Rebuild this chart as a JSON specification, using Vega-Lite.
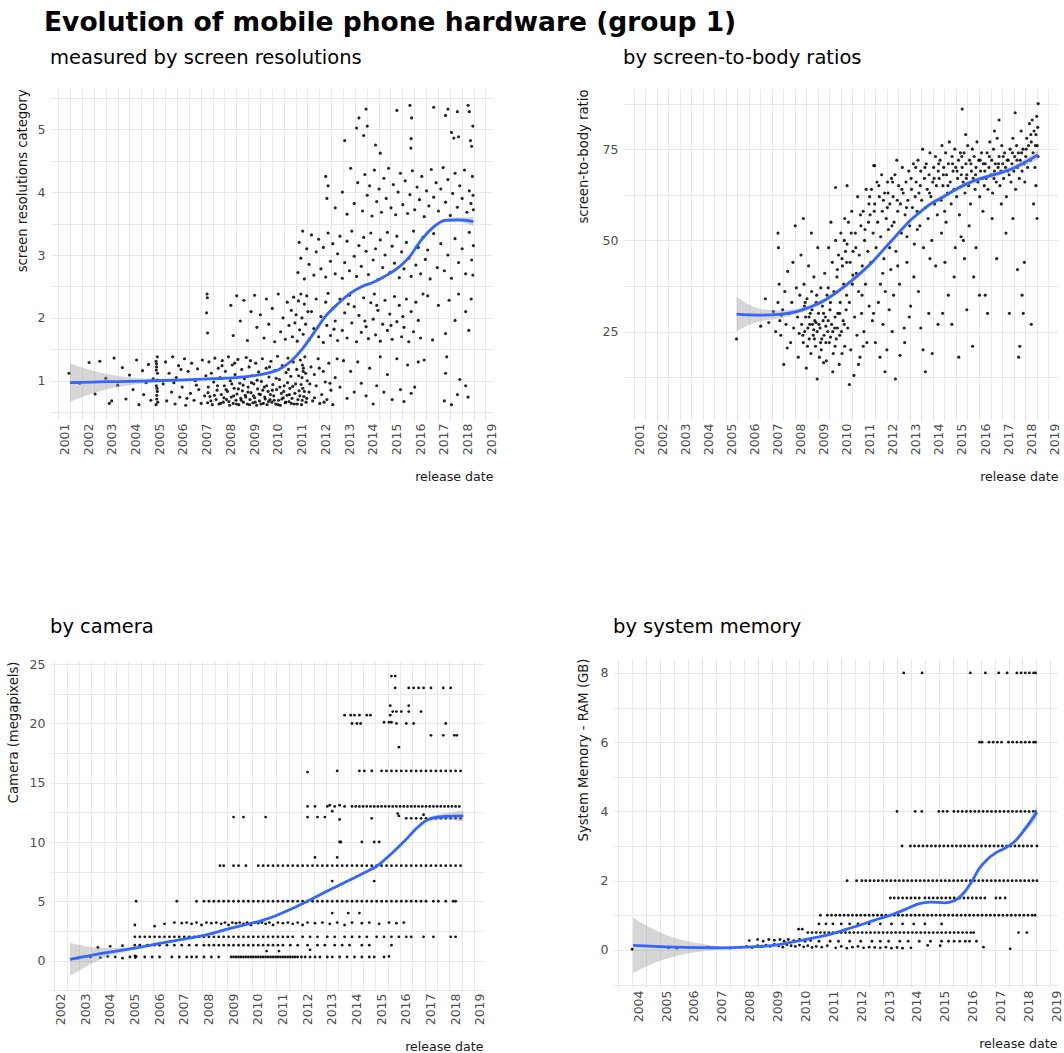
{
"$schema":"https://vega.github.io/schema/vega-lite/v6.json",
"padding":{"left":5,"top":10,"right":0,"bottom":0},
"title":{"text":"Evolution of mobile phone hardware (group 1)","fontSize":26.5,"fontWeight":"bold","anchor":"start","frame":"bounds","dx":38,"offset":-10,"baseline":"alphabetic","color":"#000000"},
"columns":2,
"align":"none",
"spacing":{"row":132,"column":77},
"concat":[
{"title":"measured by screen resolutions","width":443,"height":332,
"resolve":{"axis":{"x":"independent","y":"independent"}},
"layer":[
{"data":{"name":"p1"},"mark":{"type":"point","filled":true,"size":10,"opacity":0.85,"color":"#000000","clip":true},
"encoding":{"x":{"field":"d","type":"quantitative","title":"release date","scale":{"domain":[2000.65,2019.32],"nice":false,"zero":false},"axis":{"values":[2001,2002,2003,2004,2005,2006,2007,2008,2009,2010,2011,2012,2013,2014,2015,2016,2017,2018,2019],"format":"d"}},
"y":{"field":"v","type":"quantitative","title":"screen resolutions category","scale":{"domain":[0.36,5.64],"nice":false,"zero":false},"axis":{"values":[1,2,3,4,5],"format":"d","minExtent":13,"maxExtent":13,"titlePadding":8}}}},
{"data":{"name":"s1"},"mark":{"type":"area","color":"#999999","opacity":0.4,"interpolate":"monotone","clip":true},
"encoding":{"x":{"field":"d","type":"quantitative","title":null,"scale":{"domain":[2000.65,2019.32],"nice":false,"zero":false},"axis":{"orient":"top","values":[2001.5,2002.5,2003.5,2004.5,2005.5,2006.5,2007.5,2008.5,2009.5,2010.5,2011.5,2012.5,2013.5,2014.5,2015.5,2016.5,2017.5,2018.5],"labels":false,"ticks":false,"domain":false,"grid":true,"minExtent":0,"maxExtent":0}},
"y":{"field":"lo","type":"quantitative","title":null,"scale":{"domain":[0.36,5.64],"nice":false,"zero":false},"axis":{"orient":"right","values":[0.5,1.5,2.5,3.5,4.5,5.5],"labels":false,"ticks":false,"domain":false,"grid":true,"minExtent":0,"maxExtent":0}},"y2":{"field":"hi"}}},
{"data":{"name":"s1"},"mark":{"type":"line","color":"#3366FF","strokeWidth":2.8,"interpolate":"monotone","clip":true},
"encoding":{"x":{"field":"d","type":"quantitative","scale":{"domain":[2000.65,2019.32],"nice":false,"zero":false},"axis":null},"y":{"field":"m","type":"quantitative","scale":{"domain":[0.36,5.64],"nice":false,"zero":false},"axis":null}}}
]},
{"title":"by screen-to-body ratios","width":435,"height":332,
"resolve":{"axis":{"x":"independent","y":"independent"}},
"layer":[
{"data":{"name":"p2"},"mark":{"type":"point","filled":true,"size":10,"opacity":0.85,"color":"#000000","clip":true},
"encoding":{"x":{"field":"d","type":"quantitative","title":"release date","scale":{"domain":[2000.54,2019.43],"nice":false,"zero":false},"axis":{"values":[2001,2002,2003,2004,2005,2006,2007,2008,2009,2010,2011,2012,2013,2014,2015,2016,2017,2018,2019],"format":"d"}},
"y":{"field":"v","type":"quantitative","title":"screen-to-body ratio","scale":{"domain":[0.5,91.5],"nice":false,"zero":false},"axis":{"values":[25,50,75],"format":"d","minExtent":21,"maxExtent":21,"titlePadding":12}}}},
{"data":{"name":"s2"},"mark":{"type":"area","color":"#999999","opacity":0.4,"interpolate":"monotone","clip":true},
"encoding":{"x":{"field":"d","type":"quantitative","title":null,"scale":{"domain":[2000.54,2019.43],"nice":false,"zero":false},"axis":{"orient":"top","values":[2001.5,2002.5,2003.5,2004.5,2005.5,2006.5,2007.5,2008.5,2009.5,2010.5,2011.5,2012.5,2013.5,2014.5,2015.5,2016.5,2017.5,2018.5],"labels":false,"ticks":false,"domain":false,"grid":true,"minExtent":0,"maxExtent":0}},
"y":{"field":"lo","type":"quantitative","title":null,"scale":{"domain":[0.5,91.5],"nice":false,"zero":false},"axis":{"orient":"right","values":[12.5,37.5,62.5,87.5],"labels":false,"ticks":false,"domain":false,"grid":true,"minExtent":0,"maxExtent":0}},"y2":{"field":"hi"}}},
{"data":{"name":"s2"},"mark":{"type":"line","color":"#3366FF","strokeWidth":2.8,"interpolate":"monotone","clip":true},
"encoding":{"x":{"field":"d","type":"quantitative","scale":{"domain":[2000.54,2019.43],"nice":false,"zero":false},"axis":null},"y":{"field":"m","type":"quantitative","scale":{"domain":[0.5,91.5],"nice":false,"zero":false},"axis":null}}}
]},
{"title":"by camera","width":433,"height":330,
"resolve":{"axis":{"x":"independent","y":"independent"}},
"layer":[
{"data":{"name":"p3"},"mark":{"type":"point","filled":true,"size":8,"opacity":0.9,"color":"#000000","clip":true},
"encoding":{"x":{"field":"d","type":"quantitative","title":"release date","scale":{"domain":[2001.82,2019.37],"nice":false,"zero":false},"axis":{"values":[2002,2003,2004,2005,2006,2007,2008,2009,2010,2011,2012,2013,2014,2015,2016,2017,2018,2019],"format":"d"}},
"y":{"field":"v","type":"quantitative","title":"Camera (megapixels)","scale":{"domain":[-2.57,25.27],"nice":false,"zero":false},"axis":{"values":[0,5,10,15,20,25],"format":"d","minExtent":21,"maxExtent":21,"titlePadding":9}}}},
{"data":{"name":"s3"},"mark":{"type":"area","color":"#999999","opacity":0.4,"interpolate":"monotone","clip":true},
"encoding":{"x":{"field":"d","type":"quantitative","title":null,"scale":{"domain":[2001.82,2019.37],"nice":false,"zero":false},"axis":{"orient":"top","values":[2002.5,2003.5,2004.5,2005.5,2006.5,2007.5,2008.5,2009.5,2010.5,2011.5,2012.5,2013.5,2014.5,2015.5,2016.5,2017.5,2018.5],"labels":false,"ticks":false,"domain":false,"grid":true,"minExtent":0,"maxExtent":0}},
"y":{"field":"lo","type":"quantitative","title":null,"scale":{"domain":[-2.57,25.27],"nice":false,"zero":false},"axis":{"orient":"right","values":[-2.5,2.5,7.5,12.5,17.5,22.5],"labels":false,"ticks":false,"domain":false,"grid":true,"minExtent":0,"maxExtent":0}},"y2":{"field":"hi"}}},
{"data":{"name":"s3"},"mark":{"type":"line","color":"#3366FF","strokeWidth":2.8,"interpolate":"monotone","clip":true},
"encoding":{"x":{"field":"d","type":"quantitative","scale":{"domain":[2001.82,2019.37],"nice":false,"zero":false},"axis":null},"y":{"field":"m","type":"quantitative","scale":{"domain":[-2.57,25.27],"nice":false,"zero":false},"axis":null}}}
]},
{"title":"by system memory","width":444,"height":330,
"resolve":{"axis":{"x":"independent","y":"independent"}},
"layer":[
{"data":{"name":"p4"},"mark":{"type":"point","filled":true,"size":8,"opacity":0.9,"color":"#000000","clip":true},
"encoding":{"x":{"field":"d","type":"quantitative","title":"release date","scale":{"domain":[2003.31,2019.24],"nice":false,"zero":false},"axis":{"values":[2004,2005,2006,2007,2008,2009,2010,2011,2012,2013,2014,2015,2016,2017,2018,2019],"format":"d"}},
"y":{"field":"v","type":"quantitative","title":"System Memory - RAM (GB)","scale":{"domain":[-1.1,8.43],"nice":false,"zero":false},"axis":{"values":[0,2,4,6,8],"format":"d","minExtent":13,"maxExtent":13,"titlePadding":10}}}},
{"data":{"name":"s4"},"mark":{"type":"area","color":"#999999","opacity":0.4,"interpolate":"monotone","clip":true},
"encoding":{"x":{"field":"d","type":"quantitative","title":null,"scale":{"domain":[2003.31,2019.24],"nice":false,"zero":false},"axis":{"orient":"top","values":[2003.5,2004.5,2005.5,2006.5,2007.5,2008.5,2009.5,2010.5,2011.5,2012.5,2013.5,2014.5,2015.5,2016.5,2017.5,2018.5],"labels":false,"ticks":false,"domain":false,"grid":true,"minExtent":0,"maxExtent":0}},
"y":{"field":"lo","type":"quantitative","title":null,"scale":{"domain":[-1.1,8.43],"nice":false,"zero":false},"axis":{"orient":"right","values":[-1,1,3,5,7],"labels":false,"ticks":false,"domain":false,"grid":true,"minExtent":0,"maxExtent":0}},"y2":{"field":"hi"}}},
{"data":{"name":"s4"},"mark":{"type":"line","color":"#3366FF","strokeWidth":2.8,"interpolate":"monotone","clip":true},
"encoding":{"x":{"field":"d","type":"quantitative","scale":{"domain":[2003.31,2019.24],"nice":false,"zero":false},"axis":null},"y":{"field":"m","type":"quantitative","scale":{"domain":[-1.1,8.43],"nice":false,"zero":false},"axis":null}}}
]}
],
"datasets":{
"s1":[{"d":2001.49,"m":0.97,"lo":0.66,"hi":1.28},{"d":2002,"m":0.975,"lo":0.74,"hi":1.21},{"d":2003,"m":0.985,"lo":0.86,"hi":1.11},{"d":2004,"m":0.99,"lo":0.93,"hi":1.05},{"d":2005,"m":1.0,"lo":0.97,"hi":1.03},{"d":2006,"m":1.01,"lo":0.99,"hi":1.03},{"d":2007,"m":1.025,"lo":1.01,"hi":1.04},{"d":2008,"m":1.04,"lo":1.025,"hi":1.055},{"d":2008.6,"m":1.055,"lo":1.04,"hi":1.07},{"d":2009.4,"m":1.09,"lo":1.075,"hi":1.105},{"d":2009.9,"m":1.13,"lo":1.115,"hi":1.145},{"d":2010.3,"m":1.18,"lo":1.165,"hi":1.195},{"d":2010.8,"m":1.31,"lo":1.29,"hi":1.33},{"d":2011.25,"m":1.49,"lo":1.47,"hi":1.51},{"d":2011.75,"m":1.75,"lo":1.73,"hi":1.77},{"d":2012.25,"m":2.02,"lo":2.0,"hi":2.04},{"d":2012.8,"m":2.23,"lo":2.21,"hi":2.25},{"d":2013.3,"m":2.39,"lo":2.37,"hi":2.41},{"d":2013.8,"m":2.5,"lo":2.48,"hi":2.52},{"d":2014.3,"m":2.57,"lo":2.55,"hi":2.59},{"d":2014.8,"m":2.67,"lo":2.65,"hi":2.69},{"d":2015.3,"m":2.79,"lo":2.77,"hi":2.81},{"d":2015.8,"m":2.97,"lo":2.95,"hi":2.99},{"d":2016.3,"m":3.24,"lo":3.21,"hi":3.27},{"d":2016.8,"m":3.44,"lo":3.41,"hi":3.47},{"d":2017.3,"m":3.55,"lo":3.52,"hi":3.58},{"d":2017.85,"m":3.56,"lo":3.52,"hi":3.6},{"d":2018.2,"m":3.55,"lo":3.5,"hi":3.6},{"d":2018.49,"m":3.53,"lo":3.45,"hi":3.61}],
"s2":[{"d":2005.47,"m":29.8,"lo":25,"hi":34.6},{"d":2006,"m":29.6,"lo":26.8,"hi":32.4},{"d":2006.6,"m":29.5,"lo":27.9,"hi":31.1},{"d":2007.3,"m":29.7,"lo":28.6,"hi":30.8},{"d":2008.07,"m":30.5,"lo":29.8,"hi":31.2},{"d":2008.7,"m":31.8,"lo":31.2,"hi":32.4},{"d":2009.3,"m":33.6,"lo":33.0,"hi":34.2},{"d":2009.8,"m":35.7,"lo":35.1,"hi":36.3},{"d":2010.34,"m":38.3,"lo":37.7,"hi":38.9},{"d":2010.9,"m":41.3,"lo":40.7,"hi":41.9},{"d":2011.4,"m":44.3,"lo":43.7,"hi":44.9},{"d":2011.9,"m":47.8,"lo":47.2,"hi":48.4},{"d":2012.42,"m":51.4,"lo":50.8,"hi":52.0},{"d":2012.9,"m":54.8,"lo":54.2,"hi":55.4},{"d":2013.43,"m":57.7,"lo":57.1,"hi":58.3},{"d":2013.9,"m":60.0,"lo":59.4,"hi":60.6},{"d":2014.44,"m":61.9,"lo":61.3,"hi":62.5},{"d":2014.95,"m":63.8,"lo":63.2,"hi":64.4},{"d":2015.46,"m":65.5,"lo":64.9,"hi":66.1},{"d":2015.95,"m":66.7,"lo":66.1,"hi":67.3},{"d":2016.47,"m":67.7,"lo":67.1,"hi":68.3},{"d":2016.95,"m":68.6,"lo":68.0,"hi":69.2},{"d":2017.48,"m":69.8,"lo":69.1,"hi":70.5},{"d":2018,"m":71.4,"lo":70.5,"hi":72.3},{"d":2018.57,"m":73.5,"lo":72.2,"hi":74.8}],
"s3":[{"d":2002.63,"m":0.1,"lo":-1.3,"hi":1.5},{"d":2003.2,"m":0.32,"lo":-0.6,"hi":1.24},{"d":2003.8,"m":0.56,"lo":0.05,"hi":1.07},{"d":2004.5,"m":0.8,"lo":0.55,"hi":1.05},{"d":2005.26,"m":1.04,"lo":0.94,"hi":1.14},{"d":2006,"m":1.35,"lo":1.28,"hi":1.42},{"d":2007,"m":1.72,"lo":1.66,"hi":1.78},{"d":2007.7,"m":1.97,"lo":1.92,"hi":2.02},{"d":2008.4,"m":2.3,"lo":2.25,"hi":2.35},{"d":2009.05,"m":2.67,"lo":2.62,"hi":2.72},{"d":2009.7,"m":3.0,"lo":2.95,"hi":3.05},{"d":2010.4,"m":3.37,"lo":3.32,"hi":3.42},{"d":2011,"m":3.8,"lo":3.75,"hi":3.85},{"d":2011.6,"m":4.35,"lo":4.29,"hi":4.41},{"d":2012.29,"m":5.05,"lo":4.98,"hi":5.12},{"d":2013,"m":5.8,"lo":5.73,"hi":5.87},{"d":2013.78,"m":6.6,"lo":6.53,"hi":6.67},{"d":2014.5,"m":7.35,"lo":7.27,"hi":7.43},{"d":2015.13,"m":8.06,"lo":7.97,"hi":8.15},{"d":2015.7,"m":9.1,"lo":9.0,"hi":9.2},{"d":2016.2,"m":10.1,"lo":9.98,"hi":10.22},{"d":2016.7,"m":11.2,"lo":11.06,"hi":11.34},{"d":2017.15,"m":11.9,"lo":11.72,"hi":12.08},{"d":2017.83,"m":12.15,"lo":11.88,"hi":12.42},{"d":2018.57,"m":12.2,"lo":11.75,"hi":12.65}],
"s4":[{"d":2004.03,"m":0.13,"lo":-0.67,"hi":0.93},{"d":2004.6,"m":0.11,"lo":-0.44,"hi":0.66},{"d":2005.2,"m":0.09,"lo":-0.26,"hi":0.44},{"d":2005.9,"m":0.075,"lo":-0.12,"hi":0.27},{"d":2006.6,"m":0.065,"lo":-0.03,"hi":0.16},{"d":2007.3,"m":0.06,"lo":0.02,"hi":0.1},{"d":2008.1,"m":0.08,"lo":0.06,"hi":0.1},{"d":2009.07,"m":0.13,"lo":0.115,"hi":0.145},{"d":2010.03,"m":0.27,"lo":0.255,"hi":0.285},{"d":2010.6,"m":0.36,"lo":0.345,"hi":0.375},{"d":2011.22,"m":0.48,"lo":0.465,"hi":0.495},{"d":2011.7,"m":0.6,"lo":0.585,"hi":0.615},{"d":2012.18,"m":0.72,"lo":0.705,"hi":0.735},{"d":2012.7,"m":0.86,"lo":0.845,"hi":0.875},{"d":2013.26,"m":1.0,"lo":0.985,"hi":1.015},{"d":2013.8,"m":1.17,"lo":1.15,"hi":1.19},{"d":2014.27,"m":1.33,"lo":1.31,"hi":1.35},{"d":2014.7,"m":1.38,"lo":1.36,"hi":1.4},{"d":2015.2,"m":1.36,"lo":1.34,"hi":1.38},{"d":2015.55,"m":1.42,"lo":1.4,"hi":1.44},{"d":2015.9,"m":1.65,"lo":1.63,"hi":1.67},{"d":2016.2,"m":2.0,"lo":1.97,"hi":2.03},{"d":2016.45,"m":2.35,"lo":2.32,"hi":2.38},{"d":2016.72,"m":2.6,"lo":2.57,"hi":2.63},{"d":2017.0,"m":2.78,"lo":2.75,"hi":2.81},{"d":2017.35,"m":2.93,"lo":2.9,"hi":2.96},{"d":2017.68,"m":3.1,"lo":3.06,"hi":3.14},{"d":2018.1,"m":3.5,"lo":3.42,"hi":3.58},{"d":2018.52,"m":3.98,"lo":3.78,"hi":4.18}],
"p1":[{"d":2001.45,"v":1.12},{"d":2001.9,"v":0.96},{"d":2002.3,"v":1.29},{"d":2002.55,"v":0.79},{"d":2002.75,"v":1.31},{"d":2003.0,"v":1.04},{"d":2003.15,"v":0.64},{"d":2003.35,"v":1.36},{"d":2003.5,"v":0.93},{"d":2003.7,"v":1.21},{"d":2003.85,"v":0.71},{"d":2004.0,"v":1.09},{"d":2004.15,"v":0.86},{"d":2004.3,"v":1.33},{"d":2004.4,"v":0.62},{"d":2004.55,"v":1.16},{"d":2004.7,"v":0.97},{"d":2004.8,"v":1.26},{"d":2004.9,"v":0.69},{"d":2005.0,"v":1.03},{"d":2003.25,"v":0.68},{"d":2004.6,"v":0.78},
{"d":2005.12,"v":0.62},{"d":2005.15,"v":0.71},{"d":2005.17,"v":0.83},{"d":2005.13,"v":0.92},{"d":2005.16,"v":1.01},{"d":2005.18,"v":1.12},{"d":2005.14,"v":1.22},{"d":2005.12,"v":1.31},{"d":2005.17,"v":1.38},{"d":2005.19,"v":0.66},{"d":2005.15,"v":0.77},{"d":2005.13,"v":1.17},{"d":2005.16,"v":0.88},{"d":2005.14,"v":1.27},
{"d":2005.42,"v":0.95},{"d":2005.52,"v":1.3},{"d":2005.57,"v":0.68},{"d":2005.67,"v":1.12},{"d":2005.77,"v":0.82},{"d":2005.82,"v":1.38},{"d":2005.92,"v":0.63},{"d":2005.97,"v":1.05},{"d":2006.07,"v":1.24},{"d":2006.12,"v":0.74},{"d":2006.22,"v":0.9},{"d":2006.32,"v":1.35},{"d":2006.37,"v":0.61},{"d":2006.47,"v":1.15},{"d":2006.57,"v":0.8},{"d":2006.62,"v":1.28},{"d":2006.72,"v":0.69},{"d":2006.77,"v":1.0},{"d":2006.87,"v":1.19},{"d":2006.92,"v":0.86},{"d":2007.02,"v":0.64},{"d":2007.07,"v":1.33},{"d":2007.17,"v":0.76},{"d":2007.22,"v":1.08},{"d":2005.87,"v":0.97},{"d":2006.42,"v":0.72},{"d":2006.82,"v":0.93},{"d":2006.17,"v":1.18},
{"d":2007.29,"v":0.65},{"d":2007.32,"v":0.9},{"d":2007.35,"v":1.3},{"d":2007.39,"v":0.75},{"d":2007.45,"v":1.12},{"d":2007.49,"v":0.62},{"d":2007.55,"v":0.98},{"d":2007.6,"v":1.36},{"d":2007.65,"v":0.7},{"d":2007.69,"v":0.85},{"d":2007.74,"v":1.2},{"d":2007.77,"v":0.63},
{"d":2007.82,"v":1.05},{"d":2007.87,"v":0.78},{"d":2007.91,"v":1.32},{"d":2007.95,"v":0.66},{"d":2008.0,"v":0.92},{"d":2008.04,"v":1.15},{"d":2008.09,"v":0.7},{"d":2008.13,"v":0.83},{"d":2008.17,"v":1.38},{"d":2008.22,"v":0.61},{"d":2008.25,"v":1.0},
{"d":2008.29,"v":0.74},{"d":2008.33,"v":1.25},{"d":2008.37,"v":0.64},{"d":2008.41,"v":0.88},{"d":2008.45,"v":1.1},{"d":2008.49,"v":0.69},{"d":2008.53,"v":0.79},{"d":2008.57,"v":1.34},{"d":2008.61,"v":0.62},{"d":2008.65,"v":0.96},{"d":2008.69,"v":0.72},{"d":2008.73,"v":1.18},{"d":2008.76,"v":0.84},
{"d":2008.8,"v":0.66},{"d":2008.84,"v":1.03},{"d":2008.88,"v":0.77},{"d":2008.92,"v":1.37},{"d":2008.96,"v":0.63},{"d":2009.0,"v":0.9},{"d":2009.04,"v":1.22},{"d":2009.08,"v":0.7},{"d":2009.12,"v":0.81},{"d":2009.16,"v":1.08},{"d":2009.2,"v":0.65},{"d":2009.24,"v":0.95},
{"d":2009.28,"v":0.73},{"d":2009.32,"v":1.28},{"d":2009.36,"v":0.61},{"d":2009.4,"v":0.87},{"d":2009.44,"v":1.14},{"d":2009.48,"v":0.68},{"d":2009.52,"v":0.78},{"d":2009.56,"v":0.99},{"d":2009.6,"v":1.35},{"d":2009.64,"v":0.64},{"d":2009.68,"v":0.9},{"d":2009.72,"v":0.71},{"d":2009.76,"v":1.2},
{"d":2009.8,"v":0.62},{"d":2009.84,"v":0.83},{"d":2009.88,"v":1.06},{"d":2009.92,"v":0.7},{"d":2009.96,"v":1.31},{"d":2010.0,"v":0.66},{"d":2010.04,"v":0.94},{"d":2010.08,"v":0.76},{"d":2010.12,"v":1.16},{"d":2010.16,"v":0.63},{"d":2010.2,"v":0.86},{"d":2010.24,"v":1.39},
{"d":2010.28,"v":0.69},{"d":2010.32,"v":1.02},{"d":2010.36,"v":0.61},{"d":2010.4,"v":0.8},{"d":2010.44,"v":1.24},{"d":2010.48,"v":0.73},{"d":2010.52,"v":0.92},{"d":2010.56,"v":0.65},{"d":2010.6,"v":1.13},{"d":2010.64,"v":0.77},{"d":2010.68,"v":1.36},{"d":2010.72,"v":0.67},{"d":2010.76,"v":0.88},
{"d":2010.8,"v":1.07},{"d":2010.85,"v":0.72},{"d":2010.9,"v":1.3},{"d":2010.95,"v":0.63},{"d":2011.0,"v":0.95},{"d":2011.05,"v":1.18},{"d":2011.1,"v":0.7},{"d":2011.15,"v":0.84},{"d":2011.2,"v":1.33},{"d":2011.25,"v":0.62},{"d":2011.27,"v":1.05},{"d":2011.29,"v":1.25},{"d":2011.3,"v":0.88},{"d":2011.32,"v":1.15},{"d":2011.35,"v":0.75},{"d":2011.39,"v":1.38},{"d":2011.44,"v":0.66},{"d":2011.49,"v":1.0},
{"d":2007.31,"v":0.81},{"d":2007.43,"v":0.68},{"d":2007.58,"v":0.77},{"d":2007.71,"v":0.92},{"d":2007.84,"v":0.64},{"d":2007.98,"v":0.73},{"d":2008.07,"v":0.86},{"d":2008.19,"v":0.67},{"d":2008.31,"v":0.95},{"d":2008.39,"v":0.76},{"d":2008.51,"v":0.63},{"d":2008.59,"v":0.87},{"d":2008.71,"v":0.69},{"d":2008.79,"v":0.93},{"d":2008.9,"v":0.74},{"d":2008.99,"v":0.82},{"d":2009.06,"v":0.62},{"d":2009.14,"v":0.97},{"d":2009.22,"v":0.76},{"d":2009.3,"v":0.66},{"d":2009.38,"v":1.01},{"d":2009.46,"v":0.79},{"d":2009.54,"v":0.63},{"d":2009.62,"v":0.85},{"d":2009.7,"v":0.74},{"d":2009.78,"v":0.92},{"d":2009.86,"v":0.67},{"d":2009.94,"v":0.78},{"d":2010.02,"v":0.85},{"d":2010.1,"v":0.69},{"d":2010.18,"v":1.04},{"d":2010.26,"v":0.62},{"d":2010.34,"v":0.9},{"d":2010.42,"v":0.71},{"d":2010.5,"v":0.83},{"d":2010.58,"v":0.66},{"d":2010.66,"v":0.97},{"d":2010.74,"v":0.78},{"d":2010.82,"v":0.64},{"d":2010.88,"v":0.91},{"d":2010.97,"v":0.8},{"d":2011.07,"v":0.63},{"d":2011.13,"v":1.08},{"d":2011.18,"v":0.76},{"d":2011.23,"v":0.94},{"d":2011.28,"v":0.69},{"d":2011.33,"v":1.2},{"d":2011.37,"v":0.83},{"d":2011.42,"v":1.12},{"d":2011.47,"v":0.72},{"d":2008.43,"v":1.28},{"d":2009.1,"v":1.32},{"d":2009.9,"v":1.22},{"d":2010.7,"v":1.18},{"d":2007.9,"v":1.24},{"d":2011.6,"v":0.95},{"d":2011.8,"v":0.73},{"d":2012.0,"v":1.2},{"d":2012.2,"v":0.66},{"d":2012.45,"v":0.96},
{"d":2011.57,"v":0.82},{"d":2011.65,"v":1.22},{"d":2011.72,"v":0.68},{"d":2011.79,"v":1.1},{"d":2011.87,"v":0.92},{"d":2011.95,"v":1.35},{"d":2012.02,"v":0.64},{"d":2012.1,"v":0.78},{"d":2012.17,"v":1.15},{"d":2012.25,"v":0.98},{"d":2012.32,"v":0.7},{"d":2012.4,"v":1.28},{"d":2012.49,"v":0.85},{"d":2012.57,"v":0.62},{"d":2012.67,"v":1.05},{"d":2012.75,"v":1.35},
{"d":2012.87,"v":0.9},{"d":2013.02,"v":1.32},{"d":2013.17,"v":0.72},{"d":2013.32,"v":1.15},{"d":2013.47,"v":0.82},{"d":2013.62,"v":1.3},{"d":2013.77,"v":0.96},{"d":2013.97,"v":0.76},{"d":2014.12,"v":1.2},{"d":2014.27,"v":0.63},{"d":2014.42,"v":0.92},{"d":2014.57,"v":1.38},{"d":2014.72,"v":0.82},{"d":2014.87,"v":1.1},{"d":2015.07,"v":0.7},{"d":2015.27,"v":1.35},{"d":2015.42,"v":0.86},{"d":2015.57,"v":0.67},{"d":2015.72,"v":1.25},{"d":2015.87,"v":0.8},{"d":2016.02,"v":0.9},{"d":2016.17,"v":1.3},{"d":2016.42,"v":1.33},
{"d":2017.27,"v":0.68},{"d":2017.32,"v":1.12},{"d":2017.37,"v":1.38},{"d":2017.57,"v":0.62},{"d":2017.82,"v":0.78},{"d":2017.92,"v":1.02},{"d":2018.17,"v":0.92},{"d":2018.27,"v":0.74},
{"d":2007.27,"v":2.38},{"d":2007.29,"v":1.76},{"d":2007.25,"v":2.08},{"d":2007.28,"v":2.32},
{"d":2008.27,"v":2.2},{"d":2008.37,"v":1.72},{"d":2008.52,"v":2.35},{"d":2008.67,"v":1.95},{"d":2008.82,"v":2.28},{"d":2008.97,"v":1.64},{"d":2009.12,"v":2.1},{"d":2009.27,"v":2.36},{"d":2009.37,"v":1.85},{"d":2009.52,"v":2.05},{"d":2009.67,"v":1.68},{"d":2009.77,"v":2.3},{"d":2009.87,"v":1.9},{"d":2010.02,"v":2.15},{"d":2010.12,"v":1.62},{"d":2010.27,"v":2.38},{"d":2010.37,"v":1.78},{"d":2010.47,"v":2.0},{"d":2010.57,"v":1.66},{"d":2010.65,"v":2.25},{"d":2010.72,"v":1.88},
{"d":2010.82,"v":2.12},{"d":2010.87,"v":1.7},{"d":2010.92,"v":2.33},{"d":2010.97,"v":1.92},{"d":2011.02,"v":2.05},{"d":2011.07,"v":1.63},{"d":2011.12,"v":2.27},{"d":2011.17,"v":1.81},{"d":2011.22,"v":2.38},{"d":2011.27,"v":2.0},{"d":2011.32,"v":1.74},{"d":2011.37,"v":2.22},{"d":2011.42,"v":1.9},{"d":2011.47,"v":2.35},{"d":2011.57,"v":1.65},{"d":2011.67,"v":2.1},{"d":2011.77,"v":1.83},{"d":2011.87,"v":2.3},{"d":2011.97,"v":1.7},{"d":2012.07,"v":2.02},{"d":2012.17,"v":1.61},{"d":2012.27,"v":2.25},{"d":2012.32,"v":1.88},{"d":2012.37,"v":2.39},{"d":2012.47,"v":1.72},{"d":2012.57,"v":2.15},{"d":2012.67,"v":1.95},{"d":2012.77,"v":1.64},{"d":2012.87,"v":2.3},{"d":2012.97,"v":1.8},{"d":2013.07,"v":2.08},{"d":2013.17,"v":1.68},{"d":2013.27,"v":2.36},{"d":2013.37,"v":1.92},{"d":2013.47,"v":2.18},{"d":2013.57,"v":1.62},{"d":2013.67,"v":2.04},{"d":2013.77,"v":1.77},{"d":2013.87,"v":2.32},{"d":2013.97,"v":1.86},{"d":2014.07,"v":1.67},{"d":2014.17,"v":2.24},{"d":2014.27,"v":1.98},{"d":2014.32,"v":2.38},{"d":2014.37,"v":1.73},{"d":2014.47,"v":2.12},{"d":2014.57,"v":1.63},{"d":2014.67,"v":1.9},{"d":2014.77,"v":2.28},{"d":2014.87,"v":1.8},{"d":2014.97,"v":2.06},{"d":2015.07,"v":1.66},{"d":2015.17,"v":2.34},{"d":2015.27,"v":1.94},{"d":2015.37,"v":2.2},{"d":2015.47,"v":1.7},{"d":2015.57,"v":1.85},{"d":2015.67,"v":2.3},{"d":2015.77,"v":1.62},{"d":2015.87,"v":2.1},{"d":2015.97,"v":1.78},{"d":2016.07,"v":2.25},{"d":2016.17,"v":1.96},{"d":2016.27,"v":1.68},{"d":2016.37,"v":2.38},{"d":2014.42,"v":2.2},{"d":2013.92,"v":1.95},{"d":2013.22,"v":2.22},{"d":2012.62,"v":1.82},{"d":2011.52,"v":2.1},{"d":2015.02,"v":1.88},{"d":2015.52,"v":2.02},
{"d":2016.57,"v":2.35},{"d":2016.77,"v":1.65},{"d":2017.02,"v":2.2},{"d":2017.32,"v":1.75},{"d":2017.47,"v":2.28},{"d":2017.72,"v":1.96},{"d":2017.87,"v":2.38},{"d":2018.17,"v":2.1},{"d":2018.3,"v":1.8},{"d":2018.4,"v":2.3},
{"d":2011.1,"v":2.72},{"d":2011.15,"v":3.2},{"d":2011.22,"v":2.95},{"d":2011.3,"v":3.38},{"d":2011.37,"v":2.62},{"d":2011.47,"v":3.1},{"d":2011.57,"v":2.85},{"d":2011.67,"v":3.32},{"d":2011.77,"v":2.68},{"d":2011.87,"v":3.05},{"d":2011.97,"v":3.25},{"d":2012.07,"v":2.78},{"d":2012.17,"v":3.12},{"d":2012.27,"v":2.65},{"d":2012.37,"v":3.35},{"d":2012.47,"v":2.9},{"d":2012.57,"v":3.18},{"d":2012.67,"v":2.7},{"d":2012.77,"v":3.02},{"d":2012.87,"v":3.3},{"d":2012.97,"v":2.63},{"d":2013.07,"v":2.88},{"d":2013.17,"v":3.22},{"d":2013.27,"v":2.75},{"d":2013.37,"v":3.38},{"d":2013.47,"v":2.98},{"d":2013.57,"v":2.66},{"d":2013.67,"v":3.15},{"d":2013.77,"v":2.82},{"d":2013.87,"v":3.28},{"d":2013.97,"v":3.06},{"d":2014.07,"v":2.69},{"d":2014.17,"v":3.35},{"d":2014.27,"v":2.92},{"d":2014.37,"v":3.1},{"d":2014.47,"v":2.61},{"d":2014.57,"v":3.24},{"d":2014.67,"v":2.8},{"d":2014.77,"v":3.0},{"d":2014.87,"v":3.36},{"d":2014.97,"v":2.72},{"d":2015.07,"v":3.14},{"d":2015.17,"v":2.87},{"d":2015.27,"v":3.3},{"d":2015.37,"v":2.64},{"d":2015.47,"v":3.05},{"d":2015.57,"v":2.78},{"d":2015.67,"v":3.2},{"d":2015.77,"v":2.95},{"d":2015.87,"v":2.66},{"d":2015.97,"v":3.38},{"d":2016.07,"v":2.84},{"d":2016.17,"v":3.12},{"d":2016.27,"v":2.7},{"d":2016.37,"v":3.28},{"d":2016.47,"v":2.93},{"d":2016.57,"v":3.08},{"d":2016.67,"v":2.62},{"d":2016.82,"v":3.34},{"d":2016.97,"v":2.8},{"d":2017.12,"v":3.18},{"d":2017.27,"v":2.75},{"d":2017.42,"v":3.0},{"d":2017.57,"v":2.63},{"d":2017.72,"v":3.26},{"d":2017.87,"v":2.88},{"d":2018.02,"v":3.1},{"d":2018.17,"v":2.7},{"d":2018.32,"v":3.36},{"d":2018.42,"v":2.92},{"d":2018.47,"v":2.68},{"d":2018.49,"v":3.15},
{"d":2012.27,"v":4.25},{"d":2012.37,"v":4.1},{"d":2012.32,"v":3.9},{"d":2012.67,"v":3.75},{"d":2012.97,"v":4.0},{"d":2013.17,"v":3.65},{"d":2013.32,"v":4.38},{"d":2013.47,"v":3.82},{"d":2013.62,"v":4.15},
{"d":2013.82,"v":3.7},{"d":2013.92,"v":4.28},{"d":2014.02,"v":3.95},{"d":2014.12,"v":4.1},{"d":2014.22,"v":3.62},{"d":2014.32,"v":4.35},{"d":2014.42,"v":3.85},{"d":2014.52,"v":4.05},{"d":2014.62,"v":3.68},{"d":2014.72,"v":4.22},{"d":2014.82,"v":3.9},{"d":2014.92,"v":4.38},{"d":2015.02,"v":3.75},{"d":2015.12,"v":4.12},{"d":2015.22,"v":3.64},{"d":2015.32,"v":4.0},{"d":2015.42,"v":4.3},{"d":2015.52,"v":3.8},{"d":2015.62,"v":4.18},{"d":2015.72,"v":3.66},{"d":2015.82,"v":3.96},{"d":2015.92,"v":4.34},{"d":2016.02,"v":3.72},{"d":2016.12,"v":4.08},{"d":2016.22,"v":3.88},{"d":2016.32,"v":4.25},{"d":2016.42,"v":3.61},{"d":2016.52,"v":4.02},{"d":2016.62,"v":3.78},{"d":2016.72,"v":4.36},{"d":2016.82,"v":3.92},{"d":2016.92,"v":4.15},{"d":2017.02,"v":3.7},{"d":2017.12,"v":4.05},{"d":2017.22,"v":4.39},{"d":2017.32,"v":3.84},{"d":2017.42,"v":4.2},{"d":2017.52,"v":3.63},{"d":2017.62,"v":3.98},{"d":2017.72,"v":4.3},{"d":2017.82,"v":3.76},{"d":2017.92,"v":4.1},{"d":2018.02,"v":3.9},{"d":2018.12,"v":4.35},{"d":2018.22,"v":3.68},{"d":2018.32,"v":4.02},{"d":2018.39,"v":3.82},{"d":2018.45,"v":4.25},{"d":2018.48,"v":3.95},{"d":2018.49,"v":3.72},
{"d":2013.07,"v":4.82},{"d":2013.57,"v":5.02},{"d":2013.67,"v":5.18},{"d":2013.87,"v":4.9},{"d":2013.97,"v":5.32},{"d":2014.02,"v":5.05},{"d":2014.37,"v":4.75},{"d":2014.57,"v":4.62},{"d":2015.27,"v":5.3},{"d":2015.82,"v":5.38},{"d":2015.87,"v":4.85},{"d":2015.89,"v":5.18},{"d":2015.86,"v":4.7},{"d":2016.82,"v":5.35},{"d":2017.32,"v":5.22},{"d":2017.42,"v":5.32},{"d":2017.57,"v":4.95},{"d":2017.67,"v":4.86},{"d":2017.82,"v":5.28},{"d":2017.87,"v":4.88},{"d":2018.27,"v":5.38},{"d":2018.32,"v":5.28},{"d":2018.37,"v":4.82},{"d":2018.42,"v":4.73},{"d":2018.47,"v":5.05}],
"p2":[{"d":2005.47,"v":23},{"d":2006.52,"v":26.5},{"d":2006.72,"v":34},{"d":2006.87,"v":27.5},{"d":2007.07,"v":30.5},{"d":2007.17,"v":25},
{"d":2007.27,"v":52},{"d":2007.29,"v":48},{"d":2007.32,"v":38},{"d":2007.27,"v":33},{"d":2007.35,"v":28},{"d":2007.39,"v":24},{"d":2007.47,"v":31},{"d":2007.52,"v":16},{"d":2007.57,"v":36},{"d":2007.62,"v":27},{"d":2007.69,"v":41.5},{"d":2007.77,"v":30},{"d":2007.82,"v":22},{"d":2007.87,"v":33},{"d":2007.95,"v":26},{"d":2008.02,"v":54},{"d":2008.07,"v":37},{"d":2008.12,"v":29},{"d":2008.19,"v":24.5},{"d":2008.22,"v":35},{"d":2007.67,"v":20.5},{"d":2007.92,"v":44},{"d":2007.42,"v":29.5},{"d":2008.15,"v":18},
{"d":2008.27,"v":46},{"d":2008.3,"v":27},{"d":2008.33,"v":31},{"d":2008.37,"v":22},{"d":2008.4,"v":38},{"d":2008.43,"v":25},{"d":2008.47,"v":29},{"d":2008.5,"v":15},{"d":2008.53,"v":34},{"d":2008.57,"v":26},{"d":2008.6,"v":43},{"d":2008.63,"v":23},{"d":2008.67,"v":30},{"d":2008.7,"v":19},{"d":2008.73,"v":36},{"d":2008.77,"v":27},{"d":2008.8,"v":24},{"d":2008.83,"v":40},{"d":2008.87,"v":28},{"d":2008.9,"v":21},{"d":2008.93,"v":33},{"d":2008.97,"v":25},{"d":2009.0,"v":48},{"d":2009.03,"v":30},{"d":2009.07,"v":18},{"d":2009.1,"v":26},{"d":2009.13,"v":37},{"d":2009.17,"v":23},{"d":2009.2,"v":32},{"d":2009.23,"v":28},{"d":2008.37,"v":56},{"d":2008.72,"v":52},{"d":2008.97,"v":12},{"d":2008.62,"v":29},{"d":2008.82,"v":25.5},{"d":2009.12,"v":22},{"d":2008.42,"v":32},{"d":2008.92,"v":27.5},{"d":2009.25,"v":16.5},
{"d":2009.27,"v":24},{"d":2009.3,"v":41},{"d":2009.33,"v":29},{"d":2009.37,"v":17},{"d":2009.4,"v":35},{"d":2009.43,"v":25},{"d":2009.47,"v":48},{"d":2009.5,"v":22},{"d":2009.53,"v":31},{"d":2009.57,"v":55},{"d":2009.6,"v":27},{"d":2009.63,"v":44},{"d":2009.67,"v":19},{"d":2009.7,"v":36},{"d":2009.73,"v":26},{"d":2009.77,"v":50},{"d":2009.8,"v":23},{"d":2009.83,"v":40},{"d":2009.87,"v":30},{"d":2009.9,"v":46},{"d":2009.93,"v":16},{"d":2009.97,"v":33},{"d":2010.0,"v":52},{"d":2010.03,"v":25},{"d":2010.07,"v":43},{"d":2010.1,"v":28},{"d":2010.13,"v":38},{"d":2010.17,"v":21},{"d":2010.2,"v":47},{"d":2010.23,"v":31},{"d":2009.35,"v":26.5},{"d":2009.55,"v":23.5},{"d":2009.75,"v":29},{"d":2009.95,"v":24},{"d":2010.15,"v":27},{"d":2009.45,"v":37},{"d":2009.85,"v":42},{"d":2010.25,"v":35},{"d":2009.65,"v":14},{"d":2010.05,"v":19},{"d":2009.77,"v":64.5},{"d":2010.17,"v":56},
{"d":2010.27,"v":49},{"d":2010.3,"v":26},{"d":2010.33,"v":55},{"d":2010.37,"v":33},{"d":2010.4,"v":44},{"d":2010.43,"v":20},{"d":2010.47,"v":58},{"d":2010.5,"v":38},{"d":2010.53,"v":47},{"d":2010.57,"v":13},{"d":2010.6,"v":29},{"d":2010.63,"v":52},{"d":2010.67,"v":41},{"d":2010.7,"v":24},{"d":2010.73,"v":62},{"d":2010.77,"v":36},{"d":2010.8,"v":46},{"d":2010.83,"v":18},{"d":2010.87,"v":54},{"d":2010.9,"v":30},{"d":2010.93,"v":43},{"d":2010.97,"v":58},{"d":2011.0,"v":25},{"d":2011.03,"v":50},{"d":2011.07,"v":38},{"d":2011.1,"v":64},{"d":2011.13,"v":22},{"d":2011.17,"v":47},{"d":2011.2,"v":55},{"d":2011.23,"v":32},{"d":2010.37,"v":10.5},{"d":2010.77,"v":16},{"d":2010.97,"v":21},{"d":2010.52,"v":40.5},{"d":2010.92,"v":35},{"d":2011.22,"v":60},{"d":2010.27,"v":65},
{"d":2011.27,"v":57},{"d":2011.3,"v":44},{"d":2011.33,"v":64},{"d":2011.37,"v":28},{"d":2011.4,"v":52},{"d":2011.43,"v":70.5},{"d":2011.47,"v":60},{"d":2011.5,"v":22},{"d":2011.53,"v":48},{"d":2011.57,"v":66},{"d":2011.6,"v":55},{"d":2011.63,"v":33},{"d":2011.67,"v":62},{"d":2011.7,"v":18},{"d":2011.73,"v":51},{"d":2011.77,"v":68},{"d":2011.8,"v":58},{"d":2011.83,"v":27},{"d":2011.87,"v":45},{"d":2011.9,"v":63},{"d":2011.93,"v":36},{"d":2011.97,"v":56},{"d":2012.0,"v":20},{"d":2012.03,"v":66},{"d":2012.07,"v":53},{"d":2012.1,"v":31},{"d":2012.13,"v":60},{"d":2012.17,"v":42},{"d":2012.2,"v":67},{"d":2012.23,"v":25},{"d":2011.47,"v":70.5},{"d":2011.72,"v":38},{"d":2011.92,"v":14},{"d":2012.12,"v":48},{"d":2011.42,"v":30},{"d":2011.82,"v":41},{"d":2012.02,"v":59},{"d":2012.22,"v":54},
{"d":2012.27,"v":62},{"d":2012.31,"v":55},{"d":2012.35,"v":68},{"d":2012.39,"v":47},{"d":2012.43,"v":72},{"d":2012.47,"v":58},{"d":2012.51,"v":65},{"d":2012.55,"v":38},{"d":2012.59,"v":60},{"d":2012.63,"v":52},{"d":2012.67,"v":70},{"d":2012.71,"v":63},{"d":2012.75,"v":26},{"d":2012.79,"v":57},{"d":2012.83,"v":66},{"d":2012.87,"v":44},{"d":2012.91,"v":61},{"d":2012.95,"v":69},{"d":2012.99,"v":54},{"d":2013.03,"v":32},{"d":2013.07,"v":64},{"d":2013.11,"v":59},{"d":2013.15,"v":71},{"d":2013.19,"v":49},{"d":2013.23,"v":62},{"d":2012.37,"v":12},{"d":2012.57,"v":18.5},{"d":2012.77,"v":22},{"d":2012.97,"v":29},{"d":2013.17,"v":40},{"d":2012.47,"v":43},{"d":2012.87,"v":51},{"d":2012.29,"v":35},
{"d":2013.27,"v":66},{"d":2013.31,"v":58},{"d":2013.35,"v":72},{"d":2013.39,"v":63},{"d":2013.43,"v":54},{"d":2013.47,"v":69},{"d":2013.51,"v":61},{"d":2013.55,"v":75},{"d":2013.59,"v":48},{"d":2013.63,"v":67},{"d":2013.67,"v":59},{"d":2013.71,"v":71},{"d":2013.75,"v":64},{"d":2013.79,"v":56},{"d":2013.83,"v":68},{"d":2013.87,"v":74},{"d":2013.91,"v":62},{"d":2013.95,"v":50},{"d":2013.99,"v":66},{"d":2014.03,"v":70},{"d":2014.07,"v":60},{"d":2014.11,"v":73},{"d":2014.15,"v":65},{"d":2014.19,"v":57},{"d":2014.23,"v":69},{"d":2013.37,"v":36},{"d":2013.47,"v":26},{"d":2013.57,"v":20},{"d":2013.67,"v":14},{"d":2013.82,"v":30},{"d":2013.97,"v":19},{"d":2014.12,"v":43},{"d":2014.22,"v":27},{"d":2013.87,"v":45},{"d":2013.32,"v":53},
{"d":2014.27,"v":67},{"d":2014.31,"v":72},{"d":2014.35,"v":61},{"d":2014.39,"v":76},{"d":2014.43,"v":65},{"d":2014.47,"v":70},{"d":2014.51,"v":58},{"d":2014.55,"v":74},{"d":2014.59,"v":68},{"d":2014.63,"v":63},{"d":2014.67,"v":71},{"d":2014.71,"v":77},{"d":2014.75,"v":66},{"d":2014.79,"v":60},{"d":2014.83,"v":73},{"d":2014.87,"v":69},{"d":2014.91,"v":64},{"d":2014.95,"v":75},{"d":2014.99,"v":70},{"d":2015.03,"v":62},{"d":2015.07,"v":67},{"d":2015.11,"v":72},{"d":2015.15,"v":57},{"d":2015.19,"v":74},{"d":2015.23,"v":68},{"d":2014.37,"v":52},{"d":2014.52,"v":44},{"d":2014.67,"v":35},{"d":2014.82,"v":27},{"d":2014.97,"v":48},{"d":2015.12,"v":18},{"d":2014.57,"v":55},{"d":2014.92,"v":40},{"d":2015.22,"v":51},{"d":2014.42,"v":30},
{"d":2015.27,"v":70},{"d":2015.31,"v":66},{"d":2015.35,"v":74},{"d":2015.39,"v":63},{"d":2015.43,"v":71},{"d":2015.47,"v":68},{"d":2015.51,"v":76},{"d":2015.55,"v":65},{"d":2015.59,"v":72},{"d":2015.63,"v":60},{"d":2015.67,"v":69},{"d":2015.71,"v":75},{"d":2015.75,"v":67},{"d":2015.79,"v":73},{"d":2015.83,"v":64},{"d":2015.87,"v":70},{"d":2015.91,"v":77},{"d":2015.95,"v":66},{"d":2015.99,"v":72},{"d":2016.03,"v":62},{"d":2016.07,"v":69},{"d":2016.11,"v":74},{"d":2016.15,"v":67},{"d":2016.19,"v":71},{"d":2016.23,"v":65},{"d":2015.27,"v":86},{"d":2015.37,"v":45},{"d":2015.47,"v":31},{"d":2015.57,"v":54},{"d":2015.72,"v":21},{"d":2015.87,"v":48},{"d":2016.02,"v":35},{"d":2016.17,"v":58},{"d":2015.32,"v":50},{"d":2015.77,"v":40},{"d":2015.42,"v":79},
{"d":2016.27,"v":71},{"d":2016.31,"v":67},{"d":2016.35,"v":74},{"d":2016.39,"v":64},{"d":2016.43,"v":70},{"d":2016.47,"v":77},{"d":2016.51,"v":68},{"d":2016.55,"v":72},{"d":2016.59,"v":63},{"d":2016.63,"v":75},{"d":2016.67,"v":69},{"d":2016.71,"v":71},{"d":2016.75,"v":66},{"d":2016.79,"v":78},{"d":2016.83,"v":70},{"d":2016.87,"v":73},{"d":2016.91,"v":65},{"d":2016.95,"v":69},{"d":2016.99,"v":76},{"d":2017.03,"v":71},{"d":2017.07,"v":67},{"d":2017.11,"v":74},{"d":2017.15,"v":70},{"d":2017.19,"v":62},{"d":2017.23,"v":72},{"d":2016.27,"v":35},{"d":2016.37,"v":30},{"d":2016.57,"v":56},{"d":2016.77,"v":45},{"d":2016.97,"v":60},{"d":2017.17,"v":52},{"d":2016.67,"v":80},{"d":2016.87,"v":83},
{"d":2017.27,"v":72},{"d":2017.31,"v":68},{"d":2017.35,"v":75},{"d":2017.39,"v":66},{"d":2017.43,"v":71},{"d":2017.47,"v":78},{"d":2017.51,"v":69},{"d":2017.55,"v":73},{"d":2017.59,"v":64},{"d":2017.63,"v":76},{"d":2017.67,"v":70},{"d":2017.71,"v":74},{"d":2017.75,"v":67},{"d":2017.79,"v":72},{"d":2017.83,"v":80},{"d":2017.87,"v":69},{"d":2017.91,"v":75},{"d":2017.95,"v":71},{"d":2017.99,"v":66},{"d":2018.03,"v":73},{"d":2018.07,"v":78},{"d":2018.11,"v":70},{"d":2018.15,"v":76},{"d":2018.19,"v":82},{"d":2018.23,"v":72},{"d":2018.27,"v":77},{"d":2018.31,"v":83},{"d":2018.35,"v":74},{"d":2018.39,"v":80},{"d":2018.43,"v":70},{"d":2018.47,"v":79},{"d":2018.51,"v":84},{"d":2018.53,"v":76},{"d":2018.55,"v":81},{"d":2018.56,"v":73},{"d":2018.57,"v":87.5},{"d":2017.57,"v":85},{"d":2017.47,"v":56},{"d":2017.67,"v":42},{"d":2017.72,"v":18},{"d":2017.77,"v":21},{"d":2017.87,"v":35},{"d":2017.92,"v":30},{"d":2017.97,"v":44},{"d":2018.27,"v":27},{"d":2018.37,"v":60},{"d":2018.47,"v":65},{"d":2018.52,"v":56},{"d":2017.32,"v":30},
{"d":2008.35,"v":24},{"d":2008.45,"v":33},{"d":2008.55,"v":21},{"d":2008.65,"v":27},{"d":2008.75,"v":31},{"d":2008.85,"v":23},{"d":2008.95,"v":35},{"d":2009.05,"v":27},{"d":2009.15,"v":20},{"d":2009.25,"v":30},{"d":2009.35,"v":22},{"d":2009.45,"v":28},{"d":2009.55,"v":33},{"d":2009.65,"v":25},{"d":2009.75,"v":21},{"d":2009.85,"v":26},{"d":2009.95,"v":30},{"d":2010.05,"v":45},{"d":2010.15,"v":50},{"d":2010.25,"v":44},{"d":2010.45,"v":52},{"d":2010.65,"v":48},{"d":2010.85,"v":57},{"d":2011.05,"v":53},{"d":2011.25,"v":62},{"d":2011.45,"v":58},{"d":2011.65,"v":65},{"d":2011.85,"v":61},{"d":2012.05,"v":63},{"d":2012.25,"v":66},{"d":2012.45,"v":61},{"d":2012.65,"v":64},{"d":2012.85,"v":59},{"d":2013.05,"v":67},{"d":2013.25,"v":70},{"d":2013.45,"v":65},{"d":2013.65,"v":70},{"d":2013.85,"v":63},{"d":2014.05,"v":67},{"d":2014.25,"v":71},{"d":2014.45,"v":68},{"d":2014.65,"v":65},{"d":2014.85,"v":71},{"d":2015.05,"v":69},{"d":2015.25,"v":73},{"d":2015.45,"v":67},{"d":2015.65,"v":71},{"d":2015.85,"v":68},{"d":2016.05,"v":72},{"d":2016.25,"v":69},{"d":2016.45,"v":73},{"d":2016.65,"v":67},{"d":2016.85,"v":71},{"d":2017.05,"v":73},{"d":2017.25,"v":69},{"d":2017.45,"v":74},{"d":2017.65,"v":72},{"d":2017.85,"v":74},{"d":2018.05,"v":75},{"d":2018.25,"v":79},{"d":2018.45,"v":76}],
"p3":[{"d":2002.96,"v":0.2},{"d":2003.46,"v":0.3},{"d":2003.86,"v":0.25},{"d":2004.16,"v":0.35},{"d":2004.46,"v":0.3},{"d":2004.76,"v":0.2},{"d":2005.06,"v":0.3},{"d":2005.26,"v":0.4},{"d":2005.28,"v":0.25},{"d":2005.31,"v":0.35},{"d":2005.66,"v":0.3},{"d":2005.96,"v":0.3},{"d":2006.26,"v":0.3},{"d":2006.76,"v":0.3},{"d":2007.06,"v":0.3},{"d":2007.36,"v":0.3},{"d":2007.56,"v":0.3},{"d":2007.76,"v":0.3},{"d":2008.06,"v":0.3},{"d":2008.36,"v":0.3},{"d":2008.66,"v":0.3},{"d":2009.16,"v":0.3},{"d":2009.26,"v":0.3},{"d":2009.36,"v":0.3},{"d":2009.46,"v":0.3},{"d":2009.56,"v":0.3},{"d":2009.66,"v":0.3},{"d":2009.76,"v":0.3},{"d":2009.86,"v":0.3},{"d":2009.96,"v":0.3},{"d":2010.06,"v":0.3},{"d":2010.16,"v":0.3},{"d":2010.26,"v":0.3},{"d":2010.36,"v":0.3},{"d":2010.46,"v":0.3},{"d":2010.56,"v":0.3},{"d":2010.66,"v":0.3},{"d":2010.76,"v":0.3},{"d":2010.86,"v":0.3},{"d":2010.96,"v":0.3},{"d":2011.06,"v":0.3},{"d":2011.16,"v":0.3},{"d":2011.26,"v":0.3},{"d":2011.36,"v":0.3},{"d":2011.46,"v":0.3},{"d":2011.56,"v":0.3},{"d":2011.66,"v":0.3},{"d":2011.76,"v":0.3},{"d":2011.86,"v":0.3},{"d":2012.01,"v":0.3},{"d":2012.16,"v":0.3},{"d":2012.36,"v":0.3},{"d":2012.56,"v":0.3},{"d":2012.76,"v":0.3},{"d":2013.06,"v":0.3},{"d":2013.26,"v":0.3},{"d":2013.56,"v":0.3},{"d":2013.86,"v":0.3},{"d":2014.16,"v":0.3},{"d":2014.46,"v":0.3},{"d":2014.76,"v":0.3},{"d":2014.96,"v":0.3},{"d":2015.36,"v":0.3},{"d":2015.56,"v":0.35},
{"d":2003.76,"v":1.1},{"d":2004.26,"v":1.2},{"d":2004.76,"v":1.25},{"d":2005.26,"v":1.3},{"d":2005.46,"v":1.3},{"d":2005.76,"v":1.3},{"d":2006.06,"v":1.3},{"d":2006.26,"v":1.3},{"d":2006.56,"v":1.3},{"d":2006.86,"v":1.3},{"d":2007.16,"v":1.3},{"d":2007.46,"v":1.3},{"d":2007.76,"v":1.3},{"d":2008.06,"v":1.3},{"d":2008.26,"v":1.3},{"d":2008.46,"v":1.3},{"d":2008.66,"v":1.3},{"d":2008.86,"v":1.3},{"d":2009.06,"v":1.3},{"d":2009.26,"v":1.3},{"d":2009.46,"v":1.3},{"d":2009.66,"v":1.3},{"d":2009.86,"v":1.3},{"d":2010.06,"v":1.3},{"d":2010.26,"v":1.3},{"d":2010.46,"v":1.3},{"d":2010.66,"v":1.3},{"d":2010.86,"v":1.3},{"d":2011.06,"v":1.3},{"d":2011.26,"v":1.3},{"d":2011.56,"v":1.3},{"d":2011.86,"v":1.3},{"d":2012.26,"v":1.3},{"d":2012.66,"v":1.3},{"d":2012.96,"v":1.3},{"d":2013.36,"v":1.3},{"d":2013.66,"v":1.3},{"d":2013.96,"v":1.3},{"d":2014.46,"v":1.3},{"d":2014.76,"v":1.3},{"d":2015.66,"v":1.3},{"d":2010.6,"v":0.8},{"d":2011.1,"v":0.8},{"d":2012.36,"v":0.9},
{"d":2005.26,"v":2},{"d":2005.46,"v":2},{"d":2005.66,"v":2},{"d":2005.86,"v":2},{"d":2006.06,"v":2},{"d":2006.26,"v":2},{"d":2006.46,"v":2},{"d":2006.66,"v":2},{"d":2006.86,"v":2},{"d":2007.06,"v":2},{"d":2007.26,"v":2},{"d":2007.46,"v":2},{"d":2007.66,"v":2},{"d":2007.86,"v":2},{"d":2008.06,"v":2},{"d":2008.26,"v":2},{"d":2008.46,"v":2},{"d":2008.66,"v":2},{"d":2008.86,"v":2},{"d":2009.06,"v":2},{"d":2009.26,"v":2},{"d":2009.46,"v":2},{"d":2009.66,"v":2},{"d":2009.86,"v":2},{"d":2010.06,"v":2},{"d":2010.26,"v":2},{"d":2010.46,"v":2},{"d":2010.66,"v":2},{"d":2010.86,"v":2},{"d":2011.06,"v":2},{"d":2011.26,"v":2},{"d":2011.46,"v":2},{"d":2011.66,"v":2},{"d":2012.06,"v":2},{"d":2012.36,"v":2},{"d":2012.66,"v":2},{"d":2013.06,"v":2},{"d":2013.36,"v":2},{"d":2013.76,"v":2},{"d":2014.06,"v":2},{"d":2014.36,"v":2},{"d":2014.66,"v":2},{"d":2015.06,"v":2},{"d":2015.36,"v":2},{"d":2015.66,"v":2},{"d":2015.96,"v":2},{"d":2016.26,"v":2},{"d":2016.46,"v":2},{"d":2016.96,"v":2},{"d":2017.36,"v":2},{"d":2018.06,"v":2},{"d":2018.26,"v":2},
{"d":2005.26,"v":3.0},{"d":2006.06,"v":2.9},{"d":2006.46,"v":3.1},{"d":2006.86,"v":3.2},{"d":2007.16,"v":3.15},{"d":2007.36,"v":3.2},{"d":2007.56,"v":3.1},{"d":2007.76,"v":3.2},{"d":2007.96,"v":3.0},{"d":2008.16,"v":3.2},{"d":2008.36,"v":3.15},{"d":2008.56,"v":3.2},{"d":2008.76,"v":3.1},{"d":2008.91,"v":3.2},{"d":2009.06,"v":3.0},{"d":2009.21,"v":3.2},{"d":2009.36,"v":3.15},{"d":2009.51,"v":3.2},{"d":2009.66,"v":3.1},{"d":2009.81,"v":3.2},{"d":2009.96,"v":3.0},{"d":2010.11,"v":3.2},{"d":2010.26,"v":3.15},{"d":2010.41,"v":3.2},{"d":2010.56,"v":3.1},{"d":2010.71,"v":3.2},{"d":2010.86,"v":3.0},{"d":2011.06,"v":3.2},{"d":2011.26,"v":3.15},{"d":2011.46,"v":3.2},{"d":2011.66,"v":3.1},{"d":2011.86,"v":3.2},{"d":2012.06,"v":3.0},{"d":2012.26,"v":3.2},{"d":2012.56,"v":3.15},{"d":2012.86,"v":3.2},{"d":2013.16,"v":3.1},{"d":2013.46,"v":3.2},{"d":2013.76,"v":3.0},{"d":2014.06,"v":3.2},{"d":2014.46,"v":3.15},{"d":2014.76,"v":3.2},{"d":2015.16,"v":3.1},{"d":2015.56,"v":3.2},{"d":2015.86,"v":3.15},{"d":2016.16,"v":3.2},
{"d":2013.26,"v":4},{"d":2013.91,"v":4},{"d":2014.36,"v":4},
{"d":2005.31,"v":5},{"d":2006.96,"v":5},{"d":2007.76,"v":5},{"d":2008.06,"v":5},{"d":2008.26,"v":5},{"d":2008.46,"v":5},{"d":2008.66,"v":5},{"d":2008.86,"v":5},{"d":2009.06,"v":5},{"d":2009.26,"v":5},{"d":2009.46,"v":5},{"d":2009.66,"v":5},{"d":2009.86,"v":5},{"d":2010.06,"v":5},{"d":2010.26,"v":5},{"d":2010.46,"v":5},{"d":2010.66,"v":5},{"d":2010.86,"v":5},{"d":2011.06,"v":5},{"d":2011.26,"v":5},{"d":2011.46,"v":5},{"d":2011.66,"v":5},{"d":2011.86,"v":5},{"d":2012.06,"v":5},{"d":2012.26,"v":5},{"d":2012.46,"v":5},{"d":2012.66,"v":5},{"d":2012.86,"v":5},{"d":2013.06,"v":5},{"d":2013.26,"v":5},{"d":2013.46,"v":5},{"d":2013.66,"v":5},{"d":2013.86,"v":5},{"d":2014.06,"v":5},{"d":2014.26,"v":5},{"d":2014.46,"v":5},{"d":2014.66,"v":5},{"d":2014.86,"v":5},{"d":2015.06,"v":5},{"d":2015.26,"v":5},{"d":2015.46,"v":5},{"d":2015.66,"v":5},{"d":2015.86,"v":5},{"d":2016.06,"v":5},{"d":2016.26,"v":5},{"d":2016.46,"v":5},{"d":2016.66,"v":5},{"d":2016.86,"v":5},{"d":2017.06,"v":5},{"d":2017.36,"v":5},{"d":2017.56,"v":5},{"d":2017.86,"v":5},{"d":2018.16,"v":5},{"d":2018.26,"v":5},
{"d":2013.26,"v":6.7},{"d":2014.96,"v":6.7},
{"d":2008.71,"v":8},{"d":2008.86,"v":8},{"d":2009.26,"v":8},{"d":2009.46,"v":8},{"d":2009.76,"v":8},{"d":2010.26,"v":8},{"d":2010.46,"v":8},{"d":2010.66,"v":8},{"d":2010.86,"v":8},{"d":2011.06,"v":8},{"d":2011.26,"v":8},{"d":2011.46,"v":8},{"d":2011.66,"v":8},{"d":2011.86,"v":8},{"d":2012.06,"v":8},{"d":2012.26,"v":8},{"d":2012.46,"v":8},{"d":2012.66,"v":8},{"d":2012.86,"v":8},{"d":2013.06,"v":8},{"d":2013.26,"v":8},{"d":2013.46,"v":8},{"d":2013.66,"v":8},{"d":2013.86,"v":8},{"d":2014.06,"v":8},{"d":2014.26,"v":8},{"d":2014.46,"v":8},{"d":2014.66,"v":8},{"d":2014.86,"v":8},{"d":2015.06,"v":8},{"d":2015.26,"v":8},{"d":2015.46,"v":8},{"d":2015.66,"v":8},{"d":2015.86,"v":8},{"d":2016.06,"v":8},{"d":2016.26,"v":8},{"d":2016.46,"v":8},{"d":2016.66,"v":8},{"d":2016.86,"v":8},{"d":2017.06,"v":8},{"d":2017.26,"v":8},{"d":2017.46,"v":8},{"d":2017.66,"v":8},{"d":2017.86,"v":8},{"d":2018.06,"v":8},{"d":2018.26,"v":8},{"d":2018.46,"v":8},
{"d":2012.56,"v":8.7},{"d":2013.46,"v":8.7},
{"d":2013.56,"v":10},{"d":2013.61,"v":10},{"d":2014.46,"v":10},{"d":2014.96,"v":10},{"d":2015.16,"v":10},
{"d":2009.26,"v":12.1},{"d":2009.66,"v":12.1},{"d":2010.56,"v":12.1},{"d":2012.26,"v":12.1},{"d":2012.66,"v":12.1},{"d":2012.96,"v":12.1},{"d":2013.56,"v":11.9},{"d":2014.86,"v":12},{"d":2015.96,"v":12.2},{"d":2015.91,"v":12.4},{"d":2016.26,"v":12},{"d":2016.46,"v":12},{"d":2016.66,"v":12},{"d":2016.86,"v":12},{"d":2017.06,"v":12},{"d":2017.26,"v":12},{"d":2017.46,"v":12},{"d":2017.66,"v":12},{"d":2017.86,"v":12},{"d":2018.06,"v":12},{"d":2018.26,"v":12},{"d":2018.46,"v":12},{"d":2013.26,"v":12.6},{"d":2016.96,"v":12.3},
{"d":2012.26,"v":13},{"d":2012.56,"v":13},{"d":2013.06,"v":13},{"d":2013.16,"v":13.1},{"d":2013.36,"v":13},{"d":2013.56,"v":13.1},{"d":2013.76,"v":13},{"d":2014.06,"v":13},{"d":2014.21,"v":13},{"d":2014.36,"v":13},{"d":2014.51,"v":13},{"d":2014.66,"v":13},{"d":2014.81,"v":13},{"d":2014.96,"v":13},{"d":2015.11,"v":13},{"d":2015.26,"v":13},{"d":2015.41,"v":13},{"d":2015.56,"v":13},{"d":2015.71,"v":13},{"d":2015.86,"v":13},{"d":2016.01,"v":13},{"d":2016.16,"v":13},{"d":2016.31,"v":13},{"d":2016.46,"v":13},{"d":2016.61,"v":13},{"d":2016.76,"v":13},{"d":2016.91,"v":13},{"d":2017.06,"v":13},{"d":2017.21,"v":13},{"d":2017.36,"v":13},{"d":2017.51,"v":13},{"d":2017.66,"v":13},{"d":2017.81,"v":13},{"d":2017.96,"v":13},{"d":2018.11,"v":13},{"d":2018.26,"v":13},{"d":2018.41,"v":13},
{"d":2012.26,"v":15.9},{"d":2013.46,"v":16},{"d":2014.36,"v":16},{"d":2014.56,"v":16},{"d":2014.86,"v":16},{"d":2015.26,"v":16},{"d":2015.46,"v":16},{"d":2015.66,"v":16},{"d":2015.86,"v":16},{"d":2016.06,"v":16},{"d":2016.26,"v":16},{"d":2016.46,"v":16},{"d":2016.66,"v":16},{"d":2016.86,"v":16},{"d":2017.06,"v":16},{"d":2017.26,"v":16},{"d":2017.46,"v":16},{"d":2017.66,"v":16},{"d":2017.86,"v":16},{"d":2018.06,"v":16},{"d":2018.26,"v":16},{"d":2018.46,"v":16},
{"d":2017.26,"v":19},{"d":2017.76,"v":19},{"d":2018.21,"v":19},{"d":2018.31,"v":19},
{"d":2014.06,"v":20},{"d":2014.26,"v":20},{"d":2014.41,"v":20},{"d":2015.36,"v":20.1},{"d":2015.56,"v":20.1},{"d":2015.66,"v":20.1},{"d":2015.86,"v":20},{"d":2016.26,"v":20},{"d":2016.56,"v":20},{"d":2017.86,"v":20},
{"d":2013.76,"v":20.7},{"d":2014.01,"v":20.7},{"d":2014.16,"v":20.7},{"d":2014.36,"v":20.7},{"d":2014.66,"v":20.7},{"d":2014.81,"v":20.7},{"d":2015.61,"v":20.7},
{"d":2015.61,"v":21.5},{"d":2015.71,"v":21},{"d":2015.86,"v":21},{"d":2016.06,"v":21},{"d":2016.36,"v":21},{"d":2016.36,"v":21.5},{"d":2016.86,"v":21},
{"d":2015.81,"v":23},{"d":2016.36,"v":23},{"d":2016.56,"v":23},{"d":2016.76,"v":23},{"d":2016.96,"v":23},{"d":2017.26,"v":23},{"d":2017.76,"v":23},{"d":2018.06,"v":23},
{"d":2015.66,"v":24},{"d":2015.81,"v":24},{"d":2015.96,"v":18}],
"p4":[{"d":2004.0,"v":0.02},{"d":2005.3,"v":0.06},{"d":2005.6,"v":0.05},{"d":2006.7,"v":0.08},{"d":2007.5,"v":0.05},{"d":2007.9,"v":0.08},{"d":2008.1,"v":0.1},{"d":2008.3,"v":0.07},{"d":2008.5,"v":0.12},{"d":2008.65,"v":0.09},{"d":2008.8,"v":0.14},{"d":2008.95,"v":0.1},{"d":2009.1,"v":0.16},{"d":2009.25,"v":0.11},{"d":2009.4,"v":0.08},{"d":2009.55,"v":0.15},{"d":2009.7,"v":0.12},{"d":2009.85,"v":0.1},{"d":2010.0,"v":0.14},{"d":2010.15,"v":0.09},{"d":2010.3,"v":0.12},{"d":2010.45,"v":0.07},{"d":2010.6,"v":0.1},{"d":2010.8,"v":0.08},{"d":2011.0,"v":0.12},{"d":2011.3,"v":0.06},{"d":2011.5,"v":0.1},{"d":2011.7,"v":0.05},{"d":2011.9,"v":0.08},{"d":2012.1,"v":0.1},{"d":2012.3,"v":0.06},{"d":2012.5,"v":0.08},{"d":2012.7,"v":0.07},{"d":2012.9,"v":0.06},{"d":2013.1,"v":0.08},{"d":2013.3,"v":0.05},{"d":2013.5,"v":0.07},{"d":2013.7,"v":0.05},{"d":2014.0,"v":0.06},{"d":2014.6,"v":0.13},{"d":2015.05,"v":0.12},{"d":2016.6,"v":0.08},{"d":2017.56,"v":0.03},
{"d":2008.2,"v":0.27},{"d":2008.5,"v":0.3},{"d":2008.7,"v":0.25},{"d":2008.9,"v":0.3},{"d":2009.1,"v":0.28},{"d":2009.3,"v":0.3},{"d":2009.45,"v":0.25},{"d":2009.6,"v":0.3},{"d":2009.8,"v":0.27},{"d":2010.0,"v":0.3},{"d":2010.2,"v":0.25},{"d":2010.4,"v":0.27},{"d":2010.7,"v":0.25},{"d":2011.1,"v":0.25},{"d":2011.4,"v":0.25},{"d":2011.8,"v":0.25},{"d":2012.2,"v":0.25},{"d":2012.6,"v":0.25},{"d":2012.9,"v":0.25},{"d":2013.2,"v":0.25},{"d":2013.6,"v":0.25},{"d":2013.9,"v":0.25},{"d":2014.3,"v":0.25},{"d":2014.7,"v":0.25},{"d":2015.1,"v":0.25},{"d":2015.35,"v":0.25},{"d":2015.55,"v":0.25},{"d":2015.75,"v":0.25},{"d":2015.95,"v":0.25},{"d":2016.1,"v":0.25},{"d":2016.35,"v":0.25},
{"d":2009.97,"v":0.6},{"d":2010.1,"v":0.6},{"d":2010.3,"v":0.5},{"d":2010.45,"v":0.5},{"d":2010.6,"v":0.5},{"d":2010.75,"v":0.5},{"d":2010.9,"v":0.5},{"d":2011.05,"v":0.5},{"d":2011.2,"v":0.5},{"d":2011.35,"v":0.5},{"d":2011.5,"v":0.5},{"d":2011.65,"v":0.5},{"d":2011.8,"v":0.5},{"d":2011.95,"v":0.5},{"d":2012.1,"v":0.5},{"d":2012.25,"v":0.5},{"d":2012.4,"v":0.5},{"d":2012.55,"v":0.5},{"d":2012.7,"v":0.5},{"d":2012.85,"v":0.5},{"d":2013.0,"v":0.5},{"d":2013.15,"v":0.5},{"d":2013.3,"v":0.5},{"d":2013.45,"v":0.5},{"d":2013.6,"v":0.5},{"d":2013.75,"v":0.5},{"d":2013.9,"v":0.5},{"d":2014.05,"v":0.5},{"d":2014.2,"v":0.5},{"d":2014.35,"v":0.5},{"d":2014.5,"v":0.5},{"d":2014.65,"v":0.5},{"d":2014.8,"v":0.5},{"d":2014.95,"v":0.5},{"d":2015.1,"v":0.5},{"d":2015.25,"v":0.5},{"d":2015.4,"v":0.5},{"d":2015.55,"v":0.5},{"d":2015.7,"v":0.5},{"d":2015.85,"v":0.5},{"d":2016.0,"v":0.5},{"d":2016.15,"v":0.5},{"d":2016.25,"v":0.5},{"d":2017.86,"v":0.5},{"d":2018.16,"v":0.5},
{"d":2010.7,"v":0.75},{"d":2010.95,"v":0.75},{"d":2011.2,"v":0.75},{"d":2011.5,"v":0.75},{"d":2011.8,"v":0.75},{"d":2012.1,"v":0.75},{"d":2012.5,"v":0.75},{"d":2012.9,"v":0.75},{"d":2013.3,"v":0.75},{"d":2013.7,"v":0.75},{"d":2014.1,"v":0.75},{"d":2014.5,"v":0.75},{"d":2015.1,"v":0.75},
{"d":2010.75,"v":1},{"d":2011.0,"v":1},{"d":2011.15,"v":1},{"d":2011.3,"v":1},{"d":2011.45,"v":1},{"d":2011.6,"v":1},{"d":2011.75,"v":1},{"d":2011.9,"v":1},{"d":2012.05,"v":1},{"d":2012.2,"v":1},{"d":2012.35,"v":1},{"d":2012.5,"v":1},{"d":2012.65,"v":1},{"d":2012.8,"v":1},{"d":2012.95,"v":1},{"d":2013.1,"v":1},{"d":2013.25,"v":1},{"d":2013.4,"v":1},{"d":2013.55,"v":1},{"d":2013.7,"v":1},{"d":2013.85,"v":1},{"d":2014.0,"v":1},{"d":2014.15,"v":1},{"d":2014.3,"v":1},{"d":2014.45,"v":1},{"d":2014.6,"v":1},{"d":2014.75,"v":1},{"d":2014.9,"v":1},{"d":2015.05,"v":1},{"d":2015.2,"v":1},{"d":2015.35,"v":1},{"d":2015.5,"v":1},{"d":2015.65,"v":1},{"d":2015.8,"v":1},{"d":2015.95,"v":1},{"d":2016.1,"v":1},{"d":2016.25,"v":1},{"d":2016.4,"v":1},{"d":2016.55,"v":1},{"d":2016.7,"v":1},{"d":2016.85,"v":1},{"d":2017.0,"v":1},{"d":2017.15,"v":1},{"d":2017.3,"v":1},{"d":2017.45,"v":1},{"d":2017.6,"v":1},{"d":2017.75,"v":1},{"d":2017.9,"v":1},{"d":2018.05,"v":1},{"d":2018.2,"v":1},{"d":2018.35,"v":1},{"d":2018.45,"v":1},
{"d":2013.26,"v":1.5},{"d":2013.4,"v":1.5},{"d":2013.55,"v":1.5},{"d":2013.7,"v":1.5},{"d":2013.85,"v":1.5},{"d":2014.0,"v":1.5},{"d":2014.15,"v":1.5},{"d":2014.3,"v":1.5},{"d":2014.5,"v":1.5},{"d":2014.65,"v":1.5},{"d":2014.8,"v":1.5},{"d":2014.95,"v":1.5},{"d":2015.1,"v":1.5},{"d":2015.25,"v":1.5},{"d":2015.4,"v":1.5},{"d":2015.55,"v":1.5},{"d":2015.75,"v":1.5},{"d":2015.9,"v":1.5},{"d":2016.05,"v":1.5},{"d":2016.2,"v":1.5},{"d":2016.35,"v":1.5},{"d":2016.5,"v":1.5},{"d":2016.65,"v":1.5},{"d":2017.05,"v":1.5},{"d":2017.2,"v":1.5},{"d":2017.38,"v":1.5},
{"d":2011.71,"v":2},{"d":2012.05,"v":2},{"d":2012.24,"v":2},{"d":2012.38,"v":2},{"d":2012.53,"v":2},{"d":2012.68,"v":2},{"d":2012.83,"v":2},{"d":2012.98,"v":2},{"d":2013.13,"v":2},{"d":2013.28,"v":2},{"d":2013.43,"v":2},{"d":2013.58,"v":2},{"d":2013.73,"v":2},{"d":2013.88,"v":2},{"d":2014.03,"v":2},{"d":2014.18,"v":2},{"d":2014.33,"v":2},{"d":2014.48,"v":2},{"d":2014.63,"v":2},{"d":2014.78,"v":2},{"d":2014.93,"v":2},{"d":2015.08,"v":2},{"d":2015.23,"v":2},{"d":2015.38,"v":2},{"d":2015.53,"v":2},{"d":2015.68,"v":2},{"d":2015.83,"v":2},{"d":2015.98,"v":2},{"d":2016.13,"v":2},{"d":2016.28,"v":2},{"d":2016.43,"v":2},{"d":2016.58,"v":2},{"d":2016.73,"v":2},{"d":2016.88,"v":2},{"d":2017.03,"v":2},{"d":2017.18,"v":2},{"d":2017.33,"v":2},{"d":2017.48,"v":2},{"d":2017.63,"v":2},{"d":2017.78,"v":2},{"d":2017.93,"v":2},{"d":2018.08,"v":2},{"d":2018.23,"v":2},{"d":2018.38,"v":2},{"d":2018.52,"v":2},
{"d":2013.68,"v":3},{"d":2013.98,"v":3},{"d":2014.13,"v":3},{"d":2014.28,"v":3},{"d":2014.43,"v":3},{"d":2014.58,"v":3},{"d":2014.73,"v":3},{"d":2014.88,"v":3},{"d":2015.03,"v":3},{"d":2015.18,"v":3},{"d":2015.33,"v":3},{"d":2015.48,"v":3},{"d":2015.63,"v":3},{"d":2015.78,"v":3},{"d":2015.93,"v":3},{"d":2016.08,"v":3},{"d":2016.23,"v":3},{"d":2016.38,"v":3},{"d":2016.53,"v":3},{"d":2016.68,"v":3},{"d":2016.83,"v":3},{"d":2016.98,"v":3},{"d":2017.13,"v":3},{"d":2017.28,"v":3},{"d":2017.43,"v":3},{"d":2017.58,"v":3},{"d":2017.73,"v":3},{"d":2017.88,"v":3},{"d":2018.03,"v":3},{"d":2018.18,"v":3},{"d":2018.33,"v":3},{"d":2018.52,"v":3},
{"d":2013.5,"v":4},{"d":2014.15,"v":4},{"d":2014.39,"v":4},{"d":2015.0,"v":4},{"d":2015.15,"v":4},{"d":2015.3,"v":4},{"d":2015.54,"v":4},{"d":2015.69,"v":4},{"d":2015.84,"v":4},{"d":2015.99,"v":4},{"d":2016.14,"v":4},{"d":2016.29,"v":4},{"d":2016.44,"v":4},{"d":2016.59,"v":4},{"d":2016.74,"v":4},{"d":2016.89,"v":4},{"d":2017.04,"v":4},{"d":2017.19,"v":4},{"d":2017.34,"v":4},{"d":2017.49,"v":4},{"d":2017.64,"v":4},{"d":2017.79,"v":4},{"d":2017.94,"v":4},{"d":2018.09,"v":4},{"d":2018.24,"v":4},{"d":2018.39,"v":4},{"d":2018.47,"v":4},
{"d":2016.46,"v":6},{"d":2016.55,"v":6},{"d":2016.8,"v":6},{"d":2016.95,"v":6},{"d":2017.1,"v":6},{"d":2017.25,"v":6},{"d":2017.5,"v":6},{"d":2017.65,"v":6},{"d":2017.8,"v":6},{"d":2017.95,"v":6},{"d":2018.1,"v":6},{"d":2018.25,"v":6},{"d":2018.4,"v":6},{"d":2018.47,"v":6},
{"d":2013.74,"v":8},{"d":2014.4,"v":8},{"d":2016.13,"v":8},{"d":2016.67,"v":8},{"d":2017.15,"v":8},{"d":2017.45,"v":8},{"d":2017.8,"v":8},{"d":2017.95,"v":8},{"d":2018.1,"v":8},{"d":2018.25,"v":8},{"d":2018.4,"v":8},{"d":2018.47,"v":8}]
},
"config":{
"font":"DejaVu Sans",
"view":{"stroke":null},
"axis":{"domain":false,"ticks":false,"tickSize":0,"grid":true,"gridColor":"#e8e8e8","gridWidth":1,"labelColor":"#4d4d4d","labelFontSize":12.5,"titleColor":"#1a1a1a","titleFontWeight":"normal","labelOverlap":false},
"axisX":{"labelAngle":270,"labelAlign":"right","labelBaseline":"middle","labelOffset":6,"labelPadding":2,"titleAnchor":"end","titleFontSize":12.6,"titlePadding":16,"labelFlush":false},
"axisY":{"titleAnchor":"end","titleFontSize":13.2,"labelPadding":5},
"title":{"fontSize":19.5,"fontWeight":"normal","anchor":"start","color":"#000000","frame":"group","offset":21,"baseline":"alphabetic"}
}
}
